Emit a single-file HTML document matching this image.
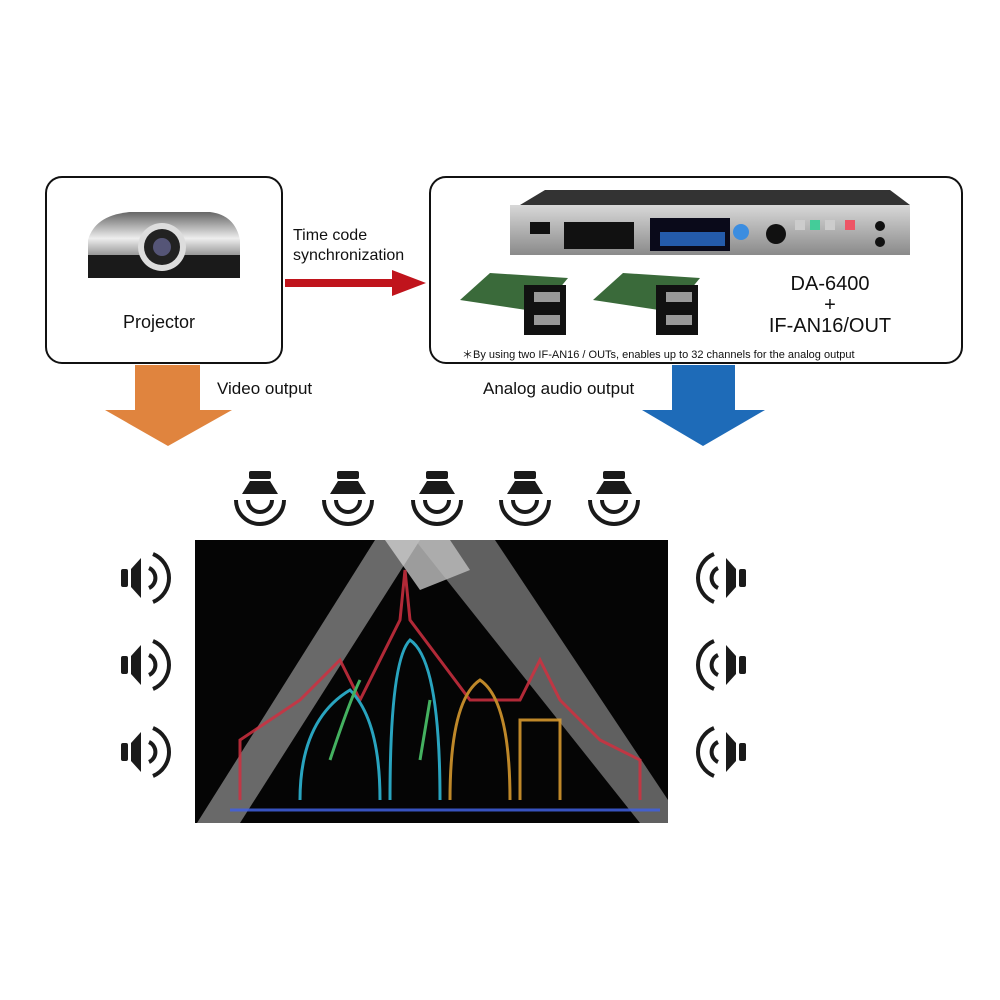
<!DOCTYPE html>
<html><head><meta charset="utf-8"><style>
body{margin:0;width:1000px;height:1000px;background:#fff;position:relative;overflow:hidden;font-family:"Liberation Sans",sans-serif;}
.t{position:absolute;color:#111;}
</style></head><body>
<svg width="1000" height="1000" style="position:absolute;left:0;top:0">
<defs>
<linearGradient id="rk" x1="0" y1="0" x2="0" y2="1"><stop offset="0" stop-color="#d8d8d8"/><stop offset="1" stop-color="#8a8a8a"/></linearGradient>
<linearGradient id="pj" x1="0" y1="0" x2="0" y2="1"><stop offset="0" stop-color="#666"/><stop offset=".4" stop-color="#eee"/><stop offset="1" stop-color="#222"/></linearGradient>
</defs>
<rect x="46" y="177" width="236" height="186" rx="16" fill="#fff" stroke="#111" stroke-width="2"/>
<rect x="430" y="177" width="532" height="186" rx="16" fill="#fff" stroke="#111" stroke-width="2"/>
<!-- projector -->
<path d="M88 240 Q95 215 130 212 L210 212 Q235 215 240 240 L240 278 L88 278 Z" fill="url(#pj)"/>
<rect x="88" y="255" width="152" height="23" fill="#1a1a1a"/>
<circle cx="162" cy="247" r="24" fill="#ddd"/><circle cx="162" cy="247" r="18" fill="#222"/><circle cx="162" cy="247" r="9" fill="#557"/>
<!-- red arrow -->
<rect x="285" y="279" width="110" height="8" fill="#c0141c"/>
<polygon points="392,270 426,283 392,296" fill="#c0141c"/>
<!-- rack unit -->
<polygon points="520,205 545,190 890,190 910,205" fill="#333"/>
<rect x="510" y="205" width="400" height="50" fill="url(#rk)"/>
<rect x="564" y="222" width="70" height="27" fill="#111"/>
<rect x="650" y="218" width="80" height="33" fill="#0a0a1a"/>
<rect x="660" y="232" width="65" height="14" fill="#2a6fd0" opacity=".8"/>
<circle cx="741" cy="232" r="8" fill="#3b8de0"/><circle cx="776" cy="234" r="10" fill="#111"/>
<rect x="795" y="220" width="10" height="10" fill="#ccc"/><rect x="810" y="220" width="10" height="10" fill="#4c9"/><rect x="825" y="220" width="10" height="10" fill="#ccc"/><rect x="845" y="220" width="10" height="10" fill="#e56"/>
<rect x="530" y="222" width="20" height="12" fill="#111"/>
<circle cx="880" cy="226" r="5" fill="#111"/><circle cx="880" cy="242" r="5" fill="#111"/>
<!-- cards -->
<g fill="#3a6a3a"><polygon points="460,300 490,273 568,278 540,312"/><polygon points="593,300 623,273 700,278 672,312"/></g>
<g fill="#111"><rect x="524" y="285" width="42" height="50"/><rect x="656" y="285" width="42" height="50"/></g>
<g fill="#999"><rect x="534" y="292" width="26" height="10"/><rect x="534" y="315" width="26" height="10"/><rect x="666" y="292" width="26" height="10"/><rect x="666" y="315" width="26" height="10"/></g>
<!-- orange arrow -->
<rect x="135" y="365" width="65" height="48" fill="#e0843e"/>
<polygon points="105,410 232,410 168,446" fill="#e0843e"/>
<!-- blue arrow -->
<rect x="672" y="365" width="63" height="48" fill="#1e6bb8"/>
<polygon points="642,410 765,410 703,446" fill="#1e6bb8"/>
<!-- screen -->
<rect x="195" y="540" width="473" height="283" fill="#050505"/>
<polygon points="375,540 420,540 240,823 197,823" fill="#bbb" opacity=".55"/>
<polygon points="385,540 450,540 470,570 420,590" fill="#ddd" opacity=".7"/>
<polygon points="415,540 495,540 668,800 668,823 640,823" fill="#bbb" opacity=".5"/>
<g fill="none" stroke-width="3" opacity=".85">
<path d="M240 800 L240 740 L300 700 L340 660 L360 700 L400 620 L405 570 L410 620 L440 660 L470 700 L520 700 L540 660 L560 700 L600 740 L640 760 L640 800" stroke="#d03040"/>
<path d="M300 800 Q300 720 350 690 Q380 720 380 800 M390 800 Q390 660 410 640 Q440 660 440 800" stroke="#30c0e0"/>
<path d="M450 800 Q450 700 480 680 Q510 700 510 800 M520 800 L520 720 L560 720 L560 800" stroke="#e0a030"/>
<path d="M230 810 L660 810" stroke="#4060e0"/>
<path d="M330 760 Q350 700 360 680 M420 760 L430 700" stroke="#50d070"/>
</g>
<!-- top speakers -->
<g fill="#1a1a1a" id="ts">
</g>
</svg>
<svg width="1000" height="1000" style="position:absolute;left:0;top:0">
<defs>
<g id="spk"><rect x="-11" y="0" width="22" height="8" rx="2" fill="#1a1a1a"/><polygon points="-10,10 10,10 18,23 -18,23" fill="#1a1a1a"/>
<path d="M-12,29 A12,12 0 0 0 12,29" fill="none" stroke="#1a1a1a" stroke-width="4"/>
<path d="M-24,29 A24,24 0 0 0 24,29" fill="none" stroke="#1a1a1a" stroke-width="4"/></g>
<g id="sp"><rect x="-24" y="-9" width="7" height="18" rx="2" fill="#1a1a1a"/><polygon points="-14,-9 -4,-20 -4,20 -14,9" fill="#1a1a1a"/>
<path d="M4,-10 A11,11 0 0 1 4,10" fill="none" stroke="#1a1a1a" stroke-width="4"/>
<path d="M8,-24 A26,26 0 0 1 8,24" fill="none" stroke="#1a1a1a" stroke-width="4"/></g>
</defs>
<use href="#spk" x="260" y="471"/><use href="#spk" x="348" y="471"/><use href="#spk" x="437" y="471"/><use href="#spk" x="525" y="471"/><use href="#spk" x="614" y="471"/>
<use href="#sp" x="145" y="578"/><use href="#sp" x="145" y="665"/><use href="#sp" x="145" y="752"/>
<g transform="translate(1865,0) scale(-1,1)"><use href="#sp" x="1143" y="578"/><use href="#sp" x="1143" y="665"/><use href="#sp" x="1143" y="752"/></g>
</svg>
<div class="t" style="left:123px;top:312px;font-size:18px">Projector</div>
<div class="t" style="left:293px;top:226px;font-size:16px;line-height:20px">Time code<br>synchronization</div>
<div class="t" style="left:760px;top:274px;font-size:20px;line-height:21px;text-align:center;width:140px">DA-6400<br>+<br>IF-AN16/OUT</div>
<div class="t" style="left:462px;top:346px;font-size:11px">＊By using two IF-AN16 / OUTs, enables up to 32 channels for the analog output</div>
<div class="t" style="left:217px;top:379px;font-size:17px">Video output</div>
<div class="t" style="left:483px;top:379px;font-size:17px">Analog audio output</div>
</body></html>
